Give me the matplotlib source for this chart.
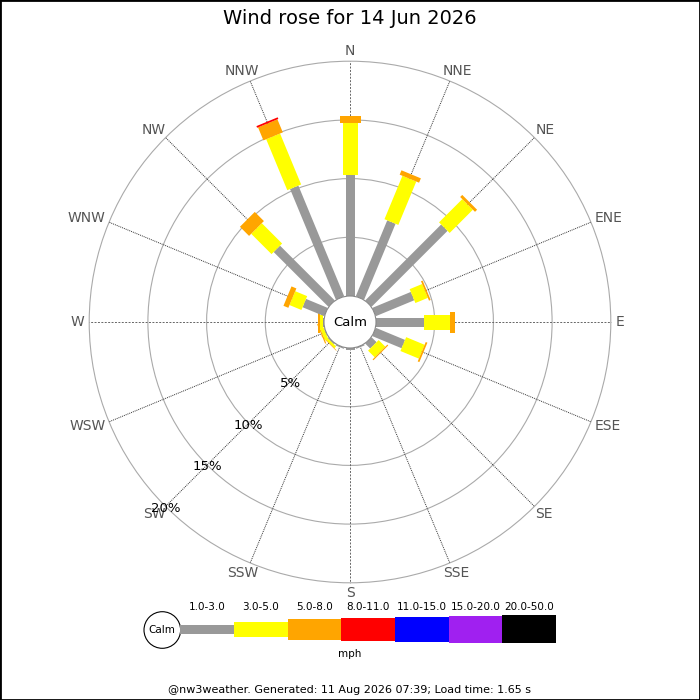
"""Wind rose for a single day, drawn as stacked rectangular bars."""

import matplotlib

matplotlib.use("Agg")

import matplotlib.pyplot as plt
import numpy as np
from matplotlib.patches import Circle, Polygon, Rectangle

# --- data (percent of observations per direction and speed band) ---
directions = ["N", "NNE", "NE", "ENE", "E", "ESE", "SE", "SSE",
              "S", "SSW", "SW", "WSW", "W", "WNW", "NW", "NNW"]
speed_bands = ["1.0-3.0", "3.0-5.0", "5.0-8.0", "8.0-11.0",
               "11.0-15.0", "15.0-20.0", "20.0-50.0"]
band_1_3 = [10.3, 7.0, 9.15, 3.55, 4.1, 2.7, 0.6, 0.1,
            0.15, 0.1, 0.1, 0.05, 0.05, 2.0, 6.6, 10.2]
band_3_5 = [4.4, 4.0, 2.8, 1.15, 2.2, 1.7, 0.8, 0.0,
            0.0, 0.0, 0.2, 0.3, 0.3, 1.1, 2.45, 4.7]
band_5_8 = [0.6, 0.4, 0.25, 0.15, 0.4, 0.15, 0.1, 0.0,
            0.0, 0.0, 0.05, 0.1, 0.15, 0.45, 1.1, 1.2]
band_8_11 = [0.0, 0.0, 0.0, 0.0, 0.0, 0.0, 0.0, 0.0,
             0.0, 0.0, 0.0, 0.0, 0.0, 0.0, 0.0, 0.15]
band_11_15 = [0.0] * 16
band_15_20 = [0.0] * 16
band_20_50 = [0.0] * 16
ring_pcts = [5, 10, 15, 20]

title = "Wind rose for 14 Jun 2026"
footer = "@nw3weather. Generated: 11 Aug 2026 07:39; Load time: 1.65 s"

# --- style ---
band_colors = ["#999999", "#ffff00", "#ffa500", "#ff0000",
               "#0000ff", "#a020f0", "#000000"]
band_widths_px = [9, 15, 21, 23, 25, 27, 28.6]
PX_PER_PCT = 11.74
CALM_R = 26 / PX_PER_PCT
CENTER = (350, 322)

bands = [band_1_3, band_3_5, band_5_8, band_8_11,
         band_11_15, band_15_20, band_20_50]

fig = plt.figure(figsize=(7, 7), dpi=100)

# rose axes: 1 unit = 1 percent, origin at the rose centre
ax = fig.add_axes([0, 0, 1, 1])
ax.set_xlim(-CENTER[0] / PX_PER_PCT, (700 - CENTER[0]) / PX_PER_PCT)
ax.set_ylim(-(700 - CENTER[1]) / PX_PER_PCT, CENTER[1] / PX_PER_PCT)
ax.axis("off")

angles = np.deg2rad(np.arange(16) * 22.5)
outer = CALM_R + ring_pcts[-1]

for pct in ring_pcts:
    ax.add_patch(Circle((0, 0), CALM_R + pct, fill=False,
                        edgecolor="#aaaaaa", linewidth=0.8, zorder=1))

dir_texts = []
for ang, name in zip(angles, directions):
    ux, uy = np.sin(ang), np.cos(ang)
    cardinal = name in ("N", "E", "S", "W")
    ax.plot([CALM_R * ux, outer * ux], [CALM_R * uy, outer * uy],
            linestyle=(0, (2, 1.5)) if cardinal else (0, (1, 1)),
            color="#666666" if cardinal else "#333333",
            linewidth=0.7, zorder=1)
    lab_r = outer + 5 / PX_PER_PCT
    t = ax.text(lab_r * ux, lab_r * uy, name, ha="center", va="center",
                fontsize=10, color="#555555")
    dir_texts.append((t, ux, uy))

# push each label box just outside the outer ring
fig.canvas.draw()
renderer = fig.canvas.get_renderer()
for t, ux, uy in dir_texts:
    bb = t.get_window_extent(renderer)
    half_w = bb.width / 2 / PX_PER_PCT
    half_h = 5.5 / PX_PER_PCT
    x, y = t.get_position()
    t.set_position((x + ux * half_w, y + uy * half_h))

# stacked bars
for i, ang in enumerate(angles):
    u = np.array([np.sin(ang), np.cos(ang)])
    p = np.array([np.cos(ang), -np.sin(ang)])
    cum = 0.0
    for band, color, wpx in zip(bands, band_colors, band_widths_px):
        val = band[i]
        if val <= 0:
            continue
        r0, r1 = CALM_R + cum, CALM_R + cum + val
        hw = wpx / 2 / PX_PER_PCT
        pts = [r0 * u - hw * p, r1 * u - hw * p, r1 * u + hw * p, r0 * u + hw * p]
        ax.add_patch(Polygon(pts, closed=True, facecolor=color,
                             edgecolor="none", zorder=3))
        cum += val

ax.add_patch(Circle((0, 0), CALM_R, facecolor="white", edgecolor="#888888",
                    linewidth=0.8, zorder=4))
ax.text(0, 0, "Calm", ha="center", va="center", fontsize=9.5, zorder=5)

sw = np.deg2rad(225)
for pct in ring_pcts:
    r = CALM_R + pct
    ax.text(r * np.sin(sw), r * np.cos(sw) - 0.15, f"{pct}%", ha="center",
            va="center", fontsize=9.5, zorder=5)

# legend, laid out in pixel units
lax = fig.add_axes([0, 0, 1, 1])
lax.set_xlim(0, 700)
lax.set_ylim(700, 0)
lax.axis("off")
lax.add_patch(Circle((162.3, 630), 18.3, facecolor="white",
                     edgecolor="black", linewidth=0.8))
lax.text(162.3, 630, "Calm", ha="center", va="center", fontsize=7.5)
seg_x0, seg_len, seg_y = 180.3, 53.67, 629
for k, (lab, color, h) in enumerate(zip(speed_bands, band_colors,
                                        band_widths_px)):
    x0 = seg_x0 + k * seg_len
    lax.add_patch(Rectangle((x0, seg_y - h / 2), seg_len, h,
                            facecolor=color, edgecolor="none"))
    lax.text(x0 + seg_len / 2, 607, lab, ha="center", va="center",
             fontsize=7.5)
lax.text(350, 654, "mph", ha="center", va="center", fontsize=7.5)

fig.text(0.5, 1 - 18 / 700, title, ha="center", va="center", fontsize=14)
fig.text(0.5, 1 - 690 / 700, footer, ha="center", va="center", fontsize=8)

fig.add_artist(Rectangle((0, 0), 1, 1, transform=fig.transFigure,
                         fill=False, edgecolor="black", linewidth=2))

fig.savefig("out.png", dpi=100)
plt.close(fig)
